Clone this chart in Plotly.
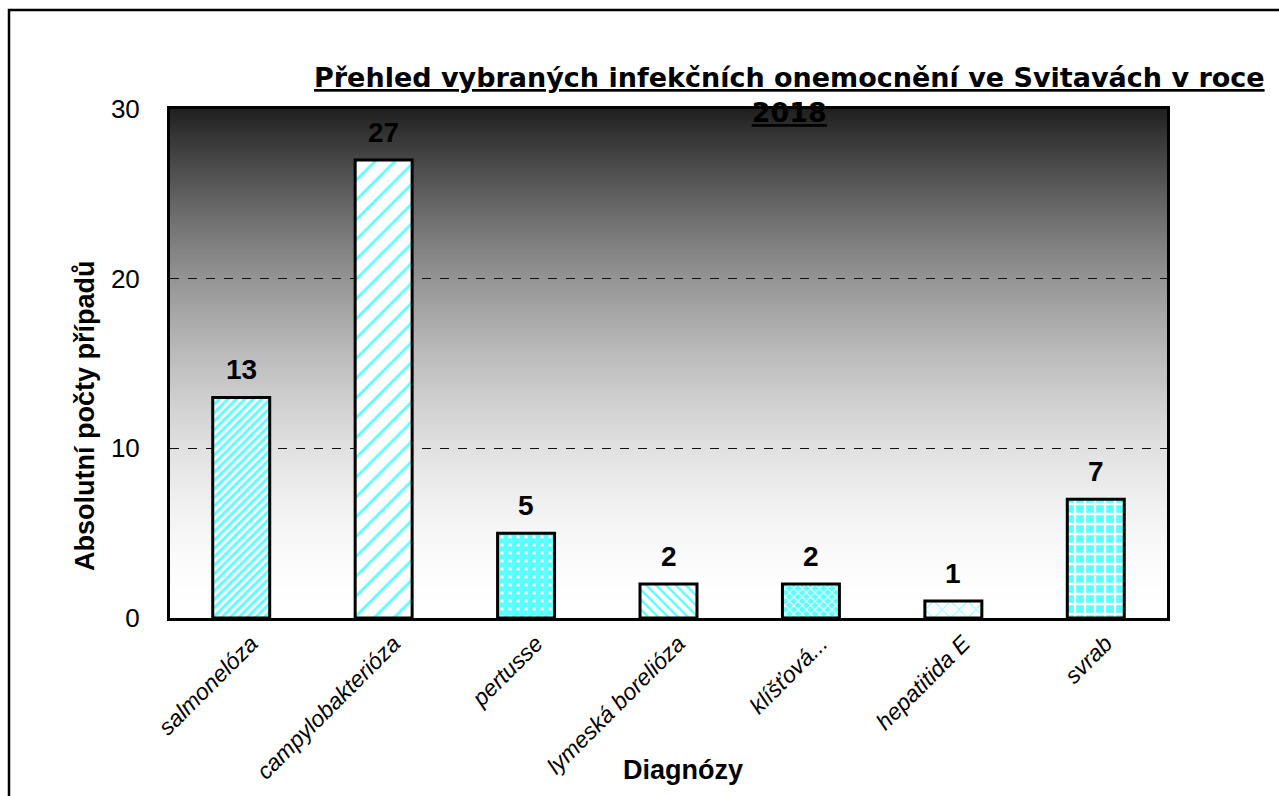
import plotly.graph_objects as go

categories = ["salmonelóza", "campylobakterióza", "pertusse", "lymeská borelióza",
              "klíšťová...", "hepatitida E", "svrab"]
values = [13, 27, 5, 2, 2, 1, 7]
y_ticks = [0, 10, 20, 30]

CYAN = "#5CFFFF"
pat_shape = ["/", "/", ".", "\\", "x", "x", "+"]
pat_fg = [CYAN, CYAN, "white", CYAN, "white", CYAN, "white"]
pat_bg = ["white", "white", CYAN, "white", CYAN, "white", CYAN]
pat_size = [6, 14, 8, 7, 6, 12, 10]
pat_sol = [0.5, 0.2, 0.15, 0.35, 0.3, 0.15, 0.4]

W, H = 1279, 796
L, R, T, B = 170, W - 1167, 109, H - 618
PW, PH = W - L - R, H - T - B
FONT = "Liberation Sans, Arial"

fig = go.Figure()
fig.add_trace(go.Bar(
    x=categories, y=values, width=0.4,
    marker=dict(
        color="white",
        line=dict(color="black", width=3),
        pattern=dict(shape=pat_shape, fgcolor=pat_fg, bgcolor=pat_bg,
                     size=pat_size, solidity=pat_sol, fillmode="replace"),
    ),
    showlegend=False, hoverinfo="skip",
))

# data labels
for c, v in zip(categories, values):
    fig.add_annotation(x=c, y=v, text=f"<b>{v}</b>", showarrow=False,
                       yanchor="bottom", yshift=10,
                       font=dict(family=FONT, size=28, color="black"))

# gradient background (dark top -> white bottom)
shapes = []
N = 200
for i in range(N):
    t = 1 - (i + 0.5) / N  # fraction from top
    f = 1 - (1 - t) ** 1.8
    g = int(round(32 + 223 * f))
    col = f"rgb({g},{g},{g})"
    shapes.append(dict(type="rect", xref="paper", yref="paper",
                       x0=0, x1=1, y0=i / N, y1=min(1.0, (i + 1.8) / N),
                       fillcolor=col, line=dict(width=0), layer="below"))
# outer frame
shapes.append(dict(type="rect", xref="paper", yref="paper",
                   x0=(9 - L) / PW, x1=1.5, y0=-1.0, y1=1 + (T - 10) / PH,
                   line=dict(color="black", width=2.5), fillcolor="rgba(0,0,0,0)",
                   layer="above"))

fig.update_layout(
    width=W, height=H,
    margin=dict(l=L, r=R, t=T, b=B, autoexpand=False),
    paper_bgcolor="white", plot_bgcolor="white",
    shapes=shapes,
    font=dict(family=FONT, color="black"),
    xaxis=dict(
        range=[-0.5, 6.5], showline=True, mirror=True, linecolor="black", linewidth=3,
        tickangle=-45, ticks="", showgrid=False, ticklabelshift=10,
        tickfont=dict(size=23, style="italic", color="black"),
    ),
    yaxis=dict(
        range=[0, 30], tickvals=y_ticks, showline=True, mirror=True,
        linecolor="black", linewidth=3, ticks="",
        showgrid=True, gridcolor="#111111", gridwidth=1, griddash="dash",
        zeroline=False, ticklabelstandoff=22,
        tickfont=dict(size=26, color="black"),
    ),
)

# title
fig.add_annotation(
    xref="paper", yref="paper", x=(789 - L) / PW, y=1 + (T - 95) / PH,
    xanchor="center", yanchor="middle", showarrow=False,
    text="<b><u>Přehled vybraných infekčních onemocnění ve Svitavách v roce</u></b><br><b><u>2018</u></b>",
    font=dict(family="DejaVu Sans", size=27, color="black"),
)
# y axis title
fig.add_annotation(
    xref="paper", yref="paper", x=(85 - L) / PW, y=(618 - 416) / PH,
    xanchor="center", yanchor="middle", showarrow=False, textangle=-90,
    text="<b>Absolutní počty případů</b>",
    font=dict(family=FONT, size=27, color="black"),
)
# x axis title
fig.add_annotation(
    xref="paper", yref="paper", x=(683 - L) / PW, y=(618 - 770) / PH,
    xanchor="center", yanchor="middle", showarrow=False,
    text="<b>Diagnózy</b>",
    font=dict(family=FONT, size=27, color="black"),
)

fig.write_html("out.html", config={"displayModeBar": False},
               post_script="document.body.style.margin='0px';")
